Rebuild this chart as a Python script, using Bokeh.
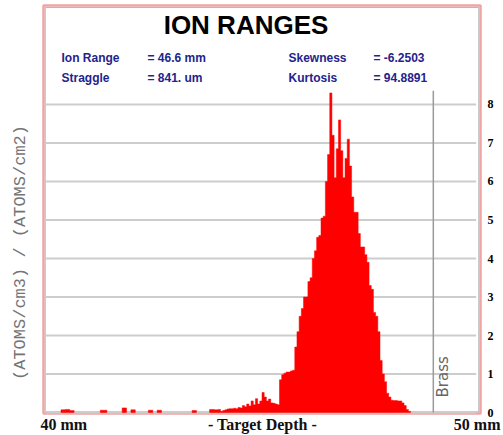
import math
from bokeh.plotting import figure
from bokeh.models import Range1d
from bokeh.core.properties import value
from bokeh.embed import file_html
from bokeh.resources import INLINE

# ---------------- data ----------------
# main histogram: bins of 0.05 mm starting at 44.00 mm
main_start_mm = 44.0
bin_mm = 0.05
main_conc = [
    0.08, 0.03, 0.05, 0.07, 0.09, 0.10, 0.10, 0.11, 0.10, 0.13,
    0.12, 0.18, 0.15, 0.22, 0.17, 0.30, 0.20, 0.36, 0.22, 0.30,
    0.52, 0.40, 0.30, 0.35, 0.25, 0.24, 0.22, 0.20, 0.85, 0.98,
    1.02, 1.05, 1.05, 1.08, 1.10, 1.70, 2.10, 2.50, 2.70, 3.00,
    3.00, 3.40, 3.50, 4.00, 4.20, 4.55, 4.60, 5.05, 5.10, 6.00,
    6.70, 8.30, 7.20, 6.10, 6.85, 7.60, 6.80, 6.10, 6.60, 7.10,
    6.40, 5.60, 5.20, 5.20, 4.65, 4.30, 4.30, 4.10, 3.90, 3.30,
    3.20, 2.60, 2.50, 2.10, 1.35, 1.00, 0.80, 0.50, 0.40, 0.32,
    0.31, 0.31, 0.30, 0.30, 0.25, 0.18, 0.08, 0.03,
]
# sparse shallow tail
tail_left = [40.40, 40.50, 40.60, 41.30, 41.80, 42.00, 42.40, 42.60, 43.40, 43.80, 43.90]
tail_right = [40.50, 40.60, 40.70, 41.45, 41.90, 42.10, 42.50, 42.70, 43.50, 43.90, 44.00]
tail_conc = [0.07, 0.08, 0.05, 0.06, 0.12, 0.07, 0.06, 0.06, 0.05, 0.08, 0.07]

depth_min, depth_max = 40.0, 50.0
y_ticks = [0, 1, 2, 3, 4, 5, 6, 7, 8]
y_tick_labels = ["0", "1", "2", "3", "4", "5", "6", "7", "8"]
brass_depth = 48.92
brass_top = 8.36

title_text = "ION RANGES"
stat_names = ["Ion Range", "Straggle", "Skewness", "Kurtosis"]
stat_values = ["=  46.6 mm", "=  841. um", "= -6.2503", "= 94.8891"]
y_label = "(ATOMS/cm3) / (ATOMS/cm2)"
x_label = "- Target Depth -"
x_end_labels = ["40 mm", "50 mm"]

# ---------------- figure ----------------
W, H = 503, 435
p = figure(width=W, height=H, output_backend="svg", toolbar_location=None,
           x_range=Range1d(39.016, 50.526), y_range=Range1d(-0.597, 10.701),
           min_border=0, x_axis_type=None, y_axis_type=None)
p.background_fill_color = "white"
p.border_fill_color = "white"
p.outline_line_color = None
p.grid.visible = False

# chart box: pink outer frame and grey inner frame
p.quad(left=[depth_min], right=[depth_max], bottom=[-0.026], top=[10.571],
       fill_color=None, line_color="#f0a4a4", line_width=2.5)
p.quad(left=[40.04], right=[49.96], bottom=[0.02], top=[10.52],
       fill_color=None, line_color="#b8b8b8", line_width=1)

# horizontal grid lines
p.segment(x0=[40.05] * len(y_ticks), y0=y_ticks, x1=[49.9] * len(y_ticks), y1=y_ticks,
          line_color="#cdcdcd", line_width=2)

# right-hand tick labels
p.text(x=[50.229] * len(y_ticks), y=y_ticks, text=y_tick_labels,
       text_align="center", text_baseline="middle",
       text_font=value("Liberation Serif"), text_font_style="bold",
       text_font_size="12px", text_color="black")

# histogram as a step outline
edges = [main_start_mm + i * bin_mm for i in range(len(main_conc) + 1)]
xs, ys = [edges[0]], [0.0]
for i, c in enumerate(main_conc):
    xs += [edges[i], edges[i + 1]]
    ys += [c, c]
xs.append(edges[-1])
ys.append(0.0)
p.patch(xs, ys, fill_color="#ff0000", line_color="#ff0000", line_width=0.5)
p.quad(left=tail_left, right=tail_right, bottom=0, top=tail_conc,
       fill_color="#ff0000", line_color="#ff0000", line_width=0.5)

# brass boundary
p.segment(x0=[brass_depth], y0=[0], x1=[brass_depth], y1=[brass_top],
          line_color="#9a9a9a", line_width=1.5)
p.text(x=[49.153], y=[0.39], text=["Brass"], angle=math.pi / 2,
       text_align="left", text_baseline="middle",
       text_font=value("DejaVu Sans"), text_font_size="15px",
       text_color="#666666")

# title and statistics
p.text(x=[44.634], y=[10.052], text=[title_text], text_align="center",
       text_baseline="middle", text_font=value("Liberation Sans"),
       text_font_style="bold", text_font_size="26px", text_color="black")
p.text(x=[40.412, 40.412, 45.606, 45.606], y=[9.208, 8.701, 9.208, 8.701],
       text=stat_names, text_align="left", text_baseline="middle",
       text_font=value("Liberation Sans"), text_font_style="bold",
       text_font_size="12px", text_color="#23238c")
p.text(x=[42.380, 42.380, 47.551, 47.551], y=[9.208, 8.701, 9.208, 8.701],
       text=stat_values, text_align="left", text_baseline="middle",
       text_font=value("Liberation Sans"), text_font_style="bold",
       text_font_size="12px", text_color="#23238c")

# axis texts
p.text(x=[39.474], y=[4.156], text=[y_label], angle=math.pi / 2,
       text_align="center", text_baseline="middle",
       text_font=value("Liberation Mono"), text_font_size="17px",
       text_color="#747474")
p.text(x=[39.931], y=[-0.312], text=[x_end_labels[0]], text_align="left",
       text_baseline="middle", text_font=value("Liberation Serif"),
       text_font_style="bold", text_font_size="16px", text_color="#111111")
p.text(x=[45.011], y=[-0.312], text=[x_label], text_align="center",
       text_baseline="middle", text_font=value("Liberation Serif"),
       text_font_style="bold", text_font_size="16px", text_color="#111111")
p.text(x=[50.458], y=[-0.312], text=[x_end_labels[1]], text_align="right",
       text_baseline="middle", text_font=value("Liberation Serif"),
       text_font_style="bold", text_font_size="16px", text_color="#111111")

open("out.html", "w").write(file_html(p, INLINE))
